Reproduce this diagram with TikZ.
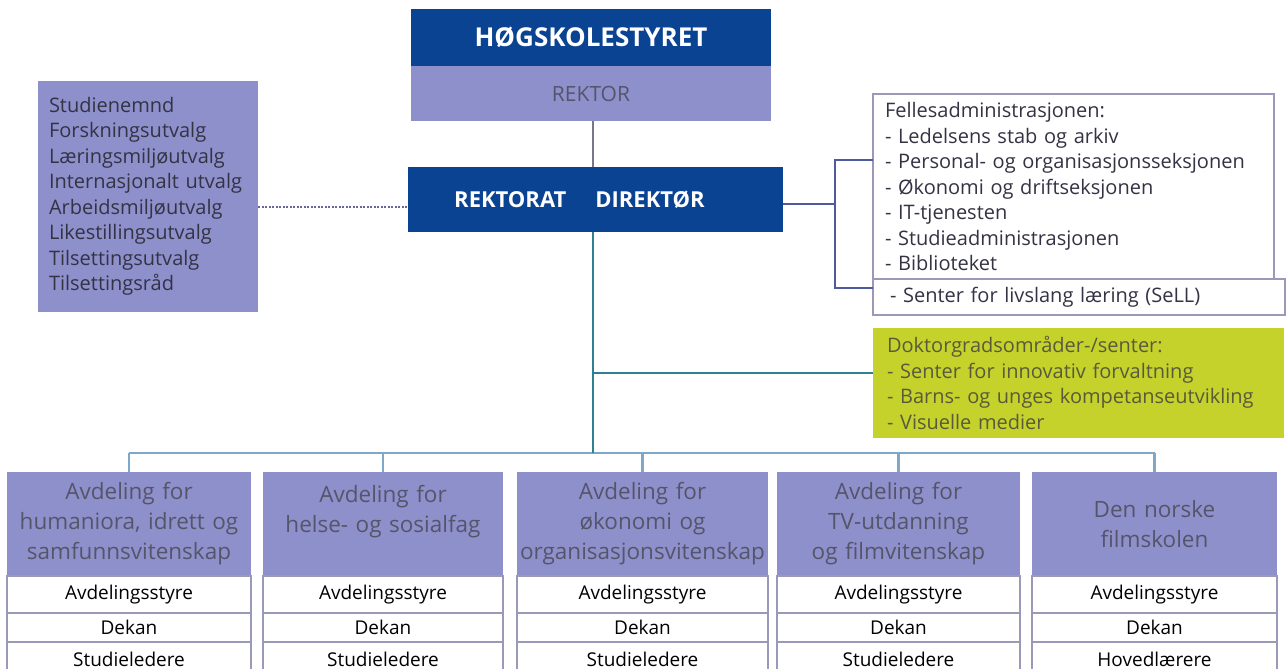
\documentclass[tikz,border=0pt]{standalone}
\usepackage{fontspec}
\setmainfont{Open Sans}
\definecolor{dblue}{HTML}{0B4393}
\definecolor{lav}{HTML}{8E90CC}
\definecolor{lime}{HTML}{C6D22C}
\definecolor{brk}{HTML}{4F5A9E}
\definecolor{tealln}{HTML}{2F8090}
\definecolor{busln}{HTML}{7FA8C8}
\definecolor{rowln}{HTML}{9A9AB8}
\definecolor{txtgray}{HTML}{55556A}
\definecolor{txtdark}{HTML}{333344}
\definecolor{limetxt}{HTML}{5A5A3A}
\begin{document}
\begin{tikzpicture}[x=1pt,y=-1pt,
  every node/.style={inner sep=0pt, outer sep=0pt, anchor=north west},
  darkbox/.style={fill=dblue, text=white, font=\bfseries\fontsize{22}{24}\selectfont},
  lavbox/.style={fill=lav},
  listbox/.style={align=left, font=\fontsize{20}{25.5}\selectfont},
  hdrbox/.style={fill=lav, align=center, text=txtgray, font=\fontsize{22.5}{30}\selectfont},
  rowbox/.style={fill=white, draw=rowln, line width=1.2pt, text=black, font=\fontsize{19}{20}\selectfont},
  conn/.style={line width=1.6pt},
]
\useasboundingbox (0,0) rectangle (1286,669);
\fill[white] (0,0) rectangle (1286,669);

% top
\node[darkbox, minimum width=360, minimum height=57, font=\bfseries\fontsize{26}{28}\selectfont] (hs) at (411,9) {HØGSKOLESTYRET};
\node[lavbox, minimum width=360, minimum height=55, text=txtgray, font=\fontsize{21}{24}\selectfont] (rek) at (411,66) {REKTOR};

% rektorat
\node[darkbox, minimum width=375, minimum height=65] (rd) at (408,167) {REKTORAT\rule{29pt}{0pt}DIREKTØR\rule{32pt}{0pt}};

% left committee box
\node[lavbox, listbox, text=txtdark, minimum width=220, minimum height=231, text width=198, inner xsep=11pt] (utv) at (38,81)
 {Studienemnd\\Forskningsutvalg\\Læringsmiljøutvalg\\Internasjonalt utvalg\\Arbeidsmiljøutvalg\\Likestillingsutvalg\\Tilsettingsutvalg\\Tilsettingsråd};

% fellesadministrasjonen
\node[listbox, fill=white, draw=rowln, line width=1.2pt, text=txtdark, minimum width=401, minimum height=185, text width=377, inner xsep=12pt] (fa) at (873,94)
 {Fellesadministrasjonen:\\- Ledelsens stab og arkiv\\- Personal- og organisasjonsseksjonen\\- Økonomi og driftseksjonen\\- IT-tjenesten\\- Studieadministrasjonen\\- Biblioteket};
\node[listbox, fill=white, draw=rowln, line width=1.2pt, text=txtdark, minimum width=412, minimum height=36, text width=388, inner xsep=12pt] (sell) at (873,279)
 {\hspace{5pt}- Senter for livslang læring (SeLL)};

% doktorgrad
\node[listbox, fill=lime, text=limetxt, minimum width=411, minimum height=110, text width=383, inner xsep=14pt] (dr) at (873,328)
 {Doktorgradsområder-/senter:\\- Senter for innovativ forvaltning\\- Barns- og unges kompetanseutvikling\\- Visuelle medier};

% coordinates
\coordinate (mv) at (593,453);
\coordinate (gj) at (593,373);
\coordinate (bt) at (835,160);
\coordinate (bm) at (835,204);
\coordinate (bb) at (835,288);

% connectors top
\draw[conn, color=txtgray!80] (rek.south -| mv) -- (rd.north -| mv);
\draw[line width=1.2pt, color=gray!80!blue, dash pattern=on 2pt off 1.5pt] (utv.east |- 0,207) -- (rd.west |- 0,207);
\draw[line width=2pt, color=brk] (rd.east |- bm) -- (bm);
\draw[line width=2pt, color=brk] (fa.west |- bt) -- (bt) -- (bb) -- (fa.west |- bb);
\draw[conn, color=tealln] (rd.south -| mv) -- (mv);
\draw[conn, color=tealln] (gj) -- (dr.west |- gj);

% bottom columns
\foreach \i/\x/\w/\t/\r in {
  1/7/244/{Avdeling for\\humaniora, idrett og\\samfunnsvitenskap}/Studieledere,
  2/263/240/{Avdeling for\\helse- og sosialfag\\\mbox{}}/Studieledere,
  3/517/251/{Avdeling for\\økonomi og\\organisasjonsvitenskap}/Studieledere,
  4/777/243/{Avdeling for\\TV-utdanning\\og filmvitenskap}/Studieledere,
  5/1032/245/{Den norske\\filmskolen}/Hovedlærere}{
  \node[hdrbox, minimum width=\w, minimum height=104, text width=\w] (h\i) at (\x,472) {\t};
  \node[rowbox, minimum width=\w, minimum height=37] (a\i) at (\x,576) {Avdelingsstyre};
  \node[rowbox, minimum width=\w, minimum height=29] (d\i) at (\x,613) {Dekan};
  \node[rowbox, minimum width=\w, minimum height=34] (s\i) at (\x,642) {\r};
  \draw[line width=2.2pt, color=busln] (h\i.north) -- (h\i.north |- mv);
}
\draw[line width=2.2pt, color=busln] (h1.north |- mv) -- (h5.north |- mv);
\draw[conn, color=tealln] (gj) -- (mv);
\end{tikzpicture}
\end{document}
